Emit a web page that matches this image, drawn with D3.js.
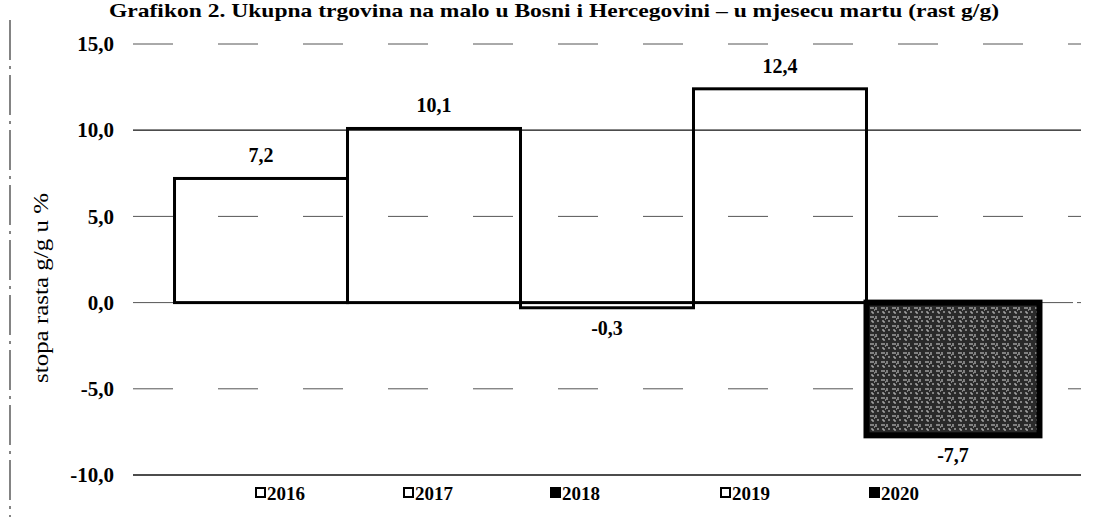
<!DOCTYPE html>
<html>
<head>
<meta charset="utf-8">
<script src="https://cdn.jsdelivr.net/npm/d3@7"></script>
<style>
  body { margin: 0; background: #fff; }
  text { font-family: "Liberation Serif", "Times New Roman", serif; }
</style>
</head>
<body>
<div id="chart-area"></div>
<script>
// data
var years = ["2016", "2017", "2018", "2019", "2020"];
var growth = [7.2, 10.1, -0.3, 12.4, -7.7];
var yTicks = [-10, -5, 0, 5, 10, 15];
var legendDark = ["2018", "2020"];

var width = 1109, height = 517;

var svg = d3.select("#chart-area")
    .append("svg")
        .attr("width", width)
        .attr("height", height);

// pattern for the dark (scanned) bar
var defs = svg.append("defs");
var pat = defs.append("pattern")
    .attr("id", "scan")
    .attr("width", 11)
    .attr("height", 9)
    .attr("patternUnits", "userSpaceOnUse");
pat.append("rect").attr("width", 11).attr("height", 9).attr("fill", "#2a2a2a");
pat.append("path")
    .attr("d", "M1,2h4M7,1v3M2,6h2v2M8,6h2M5,4h1")
    .attr("stroke", "#d8d8d8")
    .attr("stroke-width", 1);

// X Scale
var x = d3.scaleBand()
    .domain(years)
    .range([133, 1081])
    .paddingInner(0)
    .paddingOuter(0.24);

// Y Scale
var y = d3.scaleLinear()
    .domain([-10, 15])
    .range([475, 44]);

var fmt = function(d){ return d3.format(".1f")(d).replace(".", ",").replace("\u2212", "-"); };

// scan edge on the left
svg.append("line")
    .attr("x1", 10).attr("x2", 10)
    .attr("y1", 20).attr("y2", 517)
    .attr("stroke", "#333")
    .attr("stroke-width", 1.2)
    .attr("stroke-dasharray", "40,6,3,6");

// Title (near the top edge, as in the scan)
svg.append("text")
    .attr("x", 554)
    .attr("y", 17)
    .attr("text-anchor", "middle")
    .attr("font-size", "19px")
    .attr("font-weight", "bold")
    .attr("textLength", 890)
    .attr("lengthAdjust", "spacingAndGlyphs")
    .text("Grafikon 2. Ukupna trgovina na malo u Bosni i Hercegovini \u2013 u mjesecu martu (rast g/g)");

// gridlines
var dashFor = function(d) {
    if (d === 10 || d === -10) return null;
    if (d === 0) return "60,4,20,4";
    return "40,45";
};
svg.append("g").selectAll("line")
    .data(yTicks)
    .enter().append("line")
        .attr("x1", 133)
        .attr("x2", 1081)
        .attr("y1", function(d){ return y(d); })
        .attr("y2", function(d){ return y(d); })
        .attr("stroke", function(d){ return (d === 10 || d === -10) ? "#111" : "#555"; })
        .attr("stroke-width", function(d){ return (d === 10 || d === -10) ? 1.3 : 1; })
        .attr("stroke-dasharray", dashFor);

// Y Axis
var yAxisCall = d3.axisLeft(y)
    .tickValues(yTicks)
    .tickSize(0)
    .tickPadding(0)
    .tickFormat(fmt);
var yAxisGroup = svg.append("g")
    .attr("transform", "translate(114,0)")
    .call(yAxisCall);
yAxisGroup.select(".domain").remove();
yAxisGroup.selectAll("text")
    .attr("font-family", "Liberation Serif, serif")
    .attr("font-size", "21px")
    .attr("font-weight", "bold")
    .attr("fill", "#000");

// Y Label
svg.append("text")
    .attr("transform", "translate(48,288) rotate(-90)")
    .attr("text-anchor", "middle")
    .attr("font-size", "20px")
    .attr("textLength", 190)
    .attr("lengthAdjust", "spacingAndGlyphs")
    .text("stopa rasta g/g u %");

// bars
svg.append("g").selectAll("rect")
    .data(growth)
    .enter().append("rect")
        .attr("x", function(d, i){ return x(years[i]); })
        .attr("width", x.bandwidth())
        .attr("y", function(d){ return y(Math.max(0, d)); })
        .attr("height", function(d){ return Math.abs(y(d) - y(0)); })
        .attr("fill", function(d, i){ return years[i] === "2020" ? "url(#scan)" : "#fff"; })
        .attr("fill-opacity", function(d, i){ return years[i] === "2020" ? 1 : 0; })
        .attr("stroke", "#000")
        .attr("stroke-width", function(d, i){ return years[i] === "2020" ? 6 : 3; });

// value labels
svg.append("g").selectAll("text")
    .data(growth)
    .enter().append("text")
        .attr("x", function(d, i){ return x(years[i]) + x.bandwidth() / 2; })
        .attr("y", function(d){ return d >= 0 ? y(d) - 16 : y(d) + 27; })
        .attr("text-anchor", "middle")
        .attr("font-size", "20px")
        .attr("font-weight", "bold")
        .text(fmt);

// legend
var legendPos = { "2016": 256, "2017": 404, "2018": 551, "2019": 721, "2020": 870 };
var lg = svg.append("g").selectAll("g")
    .data(years)
    .enter().append("g")
        .attr("transform", function(d){ return "translate(" + legendPos[d] + ",493)"; });
lg.append("rect")
    .attr("x", 0).attr("y", -5)
    .attr("width", 9).attr("height", 9)
    .attr("fill", function(d){ return legendDark.indexOf(d) >= 0 ? "#000" : "#fff"; })
    .attr("stroke", "#000")
    .attr("stroke-width", 2);
lg.append("text")
    .attr("x", 11)
    .attr("y", 7)
    .attr("font-size", "19px")
    .attr("font-weight", "bold")
    .text(function(d){ return d; });
</script>
</body>
</html>
